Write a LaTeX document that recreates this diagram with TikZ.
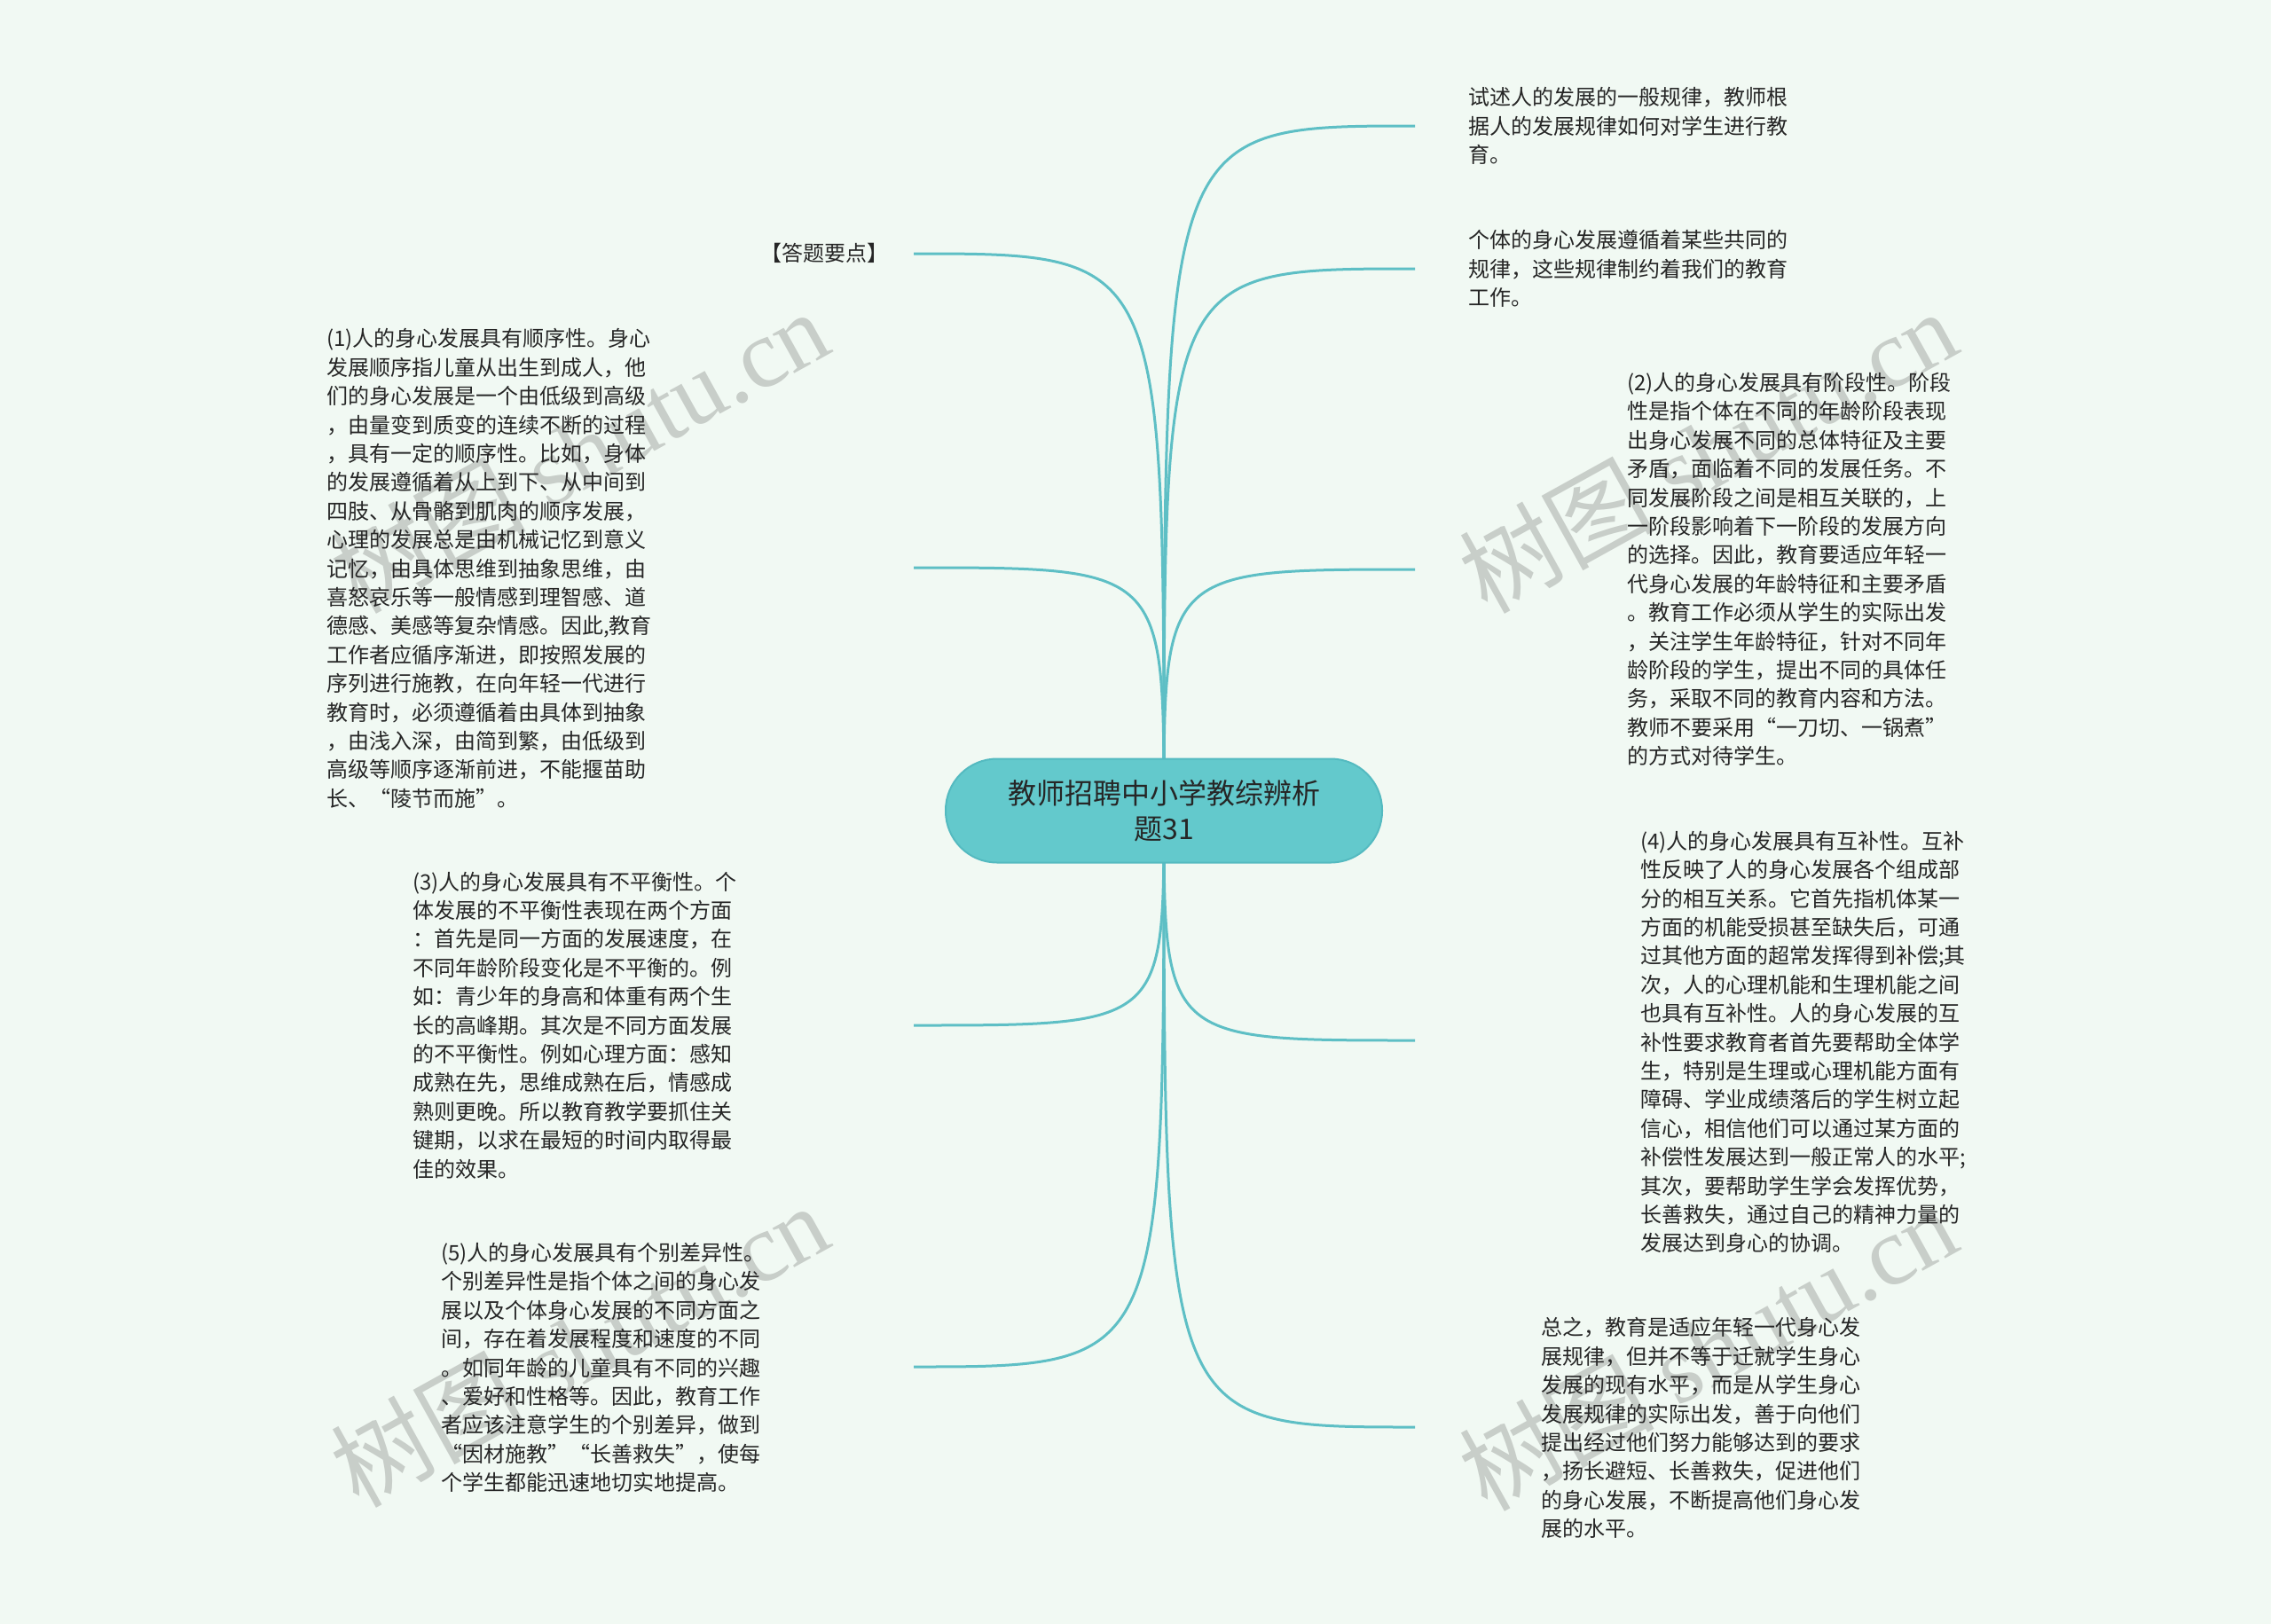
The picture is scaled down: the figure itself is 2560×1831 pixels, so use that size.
\documentclass[tikz,border=0pt]{standalone}
\usepackage{fontspec}
\setmainfont{Noto Sans CJK SC}
\newfontfamily\wmserif{Liberation Serif}
\newfontfamily\wmcjk{Noto Sans CJK SC}
\usetikzlibrary{backgrounds}
\definecolor{bgc}{RGB}{241,249,243}
\definecolor{rootfill}{RGB}{99,201,204}
\definecolor{rootdraw}{RGB}{84,186,192}
\definecolor{linec}{RGB}{94,191,197}
\definecolor{txt}{RGB}{38,38,38}
\definecolor{wm}{RGB}{200,206,201}
\begin{document}
\begin{tikzpicture}[x=1pt,y=-1pt,
  leaf/.style={inner sep=0pt, align=left, font=\fontsize{24pt}{32.4pt}\selectfont, text=txt},
  conn/.style={draw=linec, line width=3pt},
  wmark/.style={text=wm, rotate=29, inner sep=0pt}
]
\useasboundingbox (0,0) rectangle (2560,1831);
\begin{pgfonlayer}{background}
\fill[bgc] (0,0) rectangle (2560,1831);
\end{pgfonlayer}

% watermarks
\node[wmark] (w1) at (653,508) {\fontsize{110pt}{110pt}\selectfont\wmcjk 树图 \wmserif shutu.cn};
\node[wmark] (w2) at (1925,508) {\fontsize{110pt}{110pt}\selectfont\wmcjk 树图 \wmserif shutu.cn};
\node[wmark] (w3) at (653,1516) {\fontsize{110pt}{110pt}\selectfont\wmcjk 树图 \wmserif shutu.cn};
\node[wmark] (w4) at (1925,1520) {\fontsize{110pt}{110pt}\selectfont\wmcjk 树图 \wmserif shutu.cn};

% root
\node[draw=rootdraw, line width=2pt, fill=rootfill, rounded corners=58pt,
      minimum width=492pt, minimum height=117pt, align=center,
      font=\fontsize{32pt}{40pt}\selectfont, text=txt] (root) at (1312,914)
      {教师招聘中小学教综辨析\\题31};

% right leaves
\node[leaf, anchor=west] (r1) at (1655,142)
 {试述人的发展的一般规律，教师根\\据人的发展规律如何对学生进行教\\育。};
\coordinate (e1) at (1595,142);

\node[leaf, anchor=west] (r2) at (1655,303)
 {个体的身心发展遵循着某些共同的\\规律，这些规律制约着我们的教育\\工作。};
\coordinate (e2) at (1595,303);

\node[leaf, anchor=west] (r3) at (1834,642)
 {(2)人的身心发展具有阶段性。阶段\\性是指个体在不同的年龄阶段表现\\出身心发展不同的总体特征及主要\\矛盾，面临着不同的发展任务。不\\同发展阶段之间是相互关联的，上\\一阶段影响着下一阶段的发展方向\\的选择。因此，教育要适应年轻一\\代身心发展的年龄特征和主要矛盾\\。教育工作必须从学生的实际出发\\，关注学生年龄特征，针对不同年\\龄阶段的学生，提出不同的具体任\\务，采取不同的教育内容和方法。\\教师不要采用“一刀切、一锅煮”\\的方式对待学生。};
\coordinate (e3) at (1595,642);

\node[leaf, anchor=west] (r4) at (1849,1175)
 {(4)人的身心发展具有互补性。互补\\性反映了人的身心发展各个组成部\\分的相互关系。它首先指机体某一\\方面的机能受损甚至缺失后，可通\\过其他方面的超常发挥得到补偿;其\\次，人的心理机能和生理机能之间\\也具有互补性。人的身心发展的互\\补性要求教育者首先要帮助全体学\\生，特别是生理或心理机能方面有\\障碍、学业成绩落后的学生树立起\\信心，相信他们可以通过某方面的\\补偿性发展达到一般正常人的水平;\\其次，要帮助学生学会发挥优势，\\长善救失，通过自己的精神力量的\\发展达到身心的协调。};
\coordinate (e4) at (1595,1173);

\node[leaf, anchor=west] (r5) at (1737,1610)
 {总之，教育是适应年轻一代身心发\\展规律，但并不等于迁就学生身心\\发展的现有水平，而是从学生身心\\发展规律的实际出发，善于向他们\\提出经过他们努力能够达到的要求\\，扬长避短、长善救失，促进他们\\的身心发展，不断提高他们身心发\\展的水平。};
\coordinate (e5) at (1595,1609);

% left leaves
\node[leaf, anchor=west] (l1) at (857,285) {【答题要点】};
\coordinate (f1) at (1030,286);

\node[leaf, anchor=west] (l2) at (368,641)
 {(1)人的身心发展具有顺序性。身心\\发展顺序指儿童从出生到成人，他\\们的身心发展是一个由低级到高级\\，由量变到质变的连续不断的过程\\，具有一定的顺序性。比如，身体\\的发展遵循着从上到下、从中间到\\四肢、从骨骼到肌肉的顺序发展，\\心理的发展总是由机械记忆到意义\\记忆，由具体思维到抽象思维，由\\喜怒哀乐等一般情感到理智感、道\\德感、美感等复杂情感。因此,教育\\工作者应循序渐进，即按照发展的\\序列进行施教，在向年轻一代进行\\教育时，必须遵循着由具体到抽象\\，由浅入深，由简到繁，由低级到\\高级等顺序逐渐前进，不能揠苗助\\长、“陵节而施”。};
\coordinate (f2) at (1030,640);

\node[leaf, anchor=west] (l3) at (465,1156)
 {(3)人的身心发展具有不平衡性。个\\体发展的不平衡性表现在两个方面\\：首先是同一方面的发展速度，在\\不同年龄阶段变化是不平衡的。例\\如：青少年的身高和体重有两个生\\长的高峰期。其次是不同方面发展\\的不平衡性。例如心理方面：感知\\成熟在先，思维成熟在后，情感成\\熟则更晚。所以教育教学要抓住关\\键期，以求在最短的时间内取得最\\佳的效果。};
\coordinate (f3) at (1030,1156);

\node[leaf, anchor=west] (l4) at (497,1542)
 {(5)人的身心发展具有个别差异性。\\个别差异性是指个体之间的身心发\\展以及个体身心发展的不同方面之\\间，存在着发展程度和速度的不同\\。如同年龄的儿童具有不同的兴趣\\、爱好和性格等。因此，教育工作\\者应该注意学生的个别差异，做到\\“因材施教”“长善救失”，使每\\个学生都能迅速地切实地提高。};
\coordinate (f4) at (1030,1541);

% connectors
\begin{pgfonlayer}{background}
\foreach \e in {e1,e2,e3,e4,e5,f1,f2,f3,f4}{
  \draw[conn] (root.center) .. controls (root.center |- \e) .. (\e);
}
\end{pgfonlayer}
\end{tikzpicture}
\end{document}
